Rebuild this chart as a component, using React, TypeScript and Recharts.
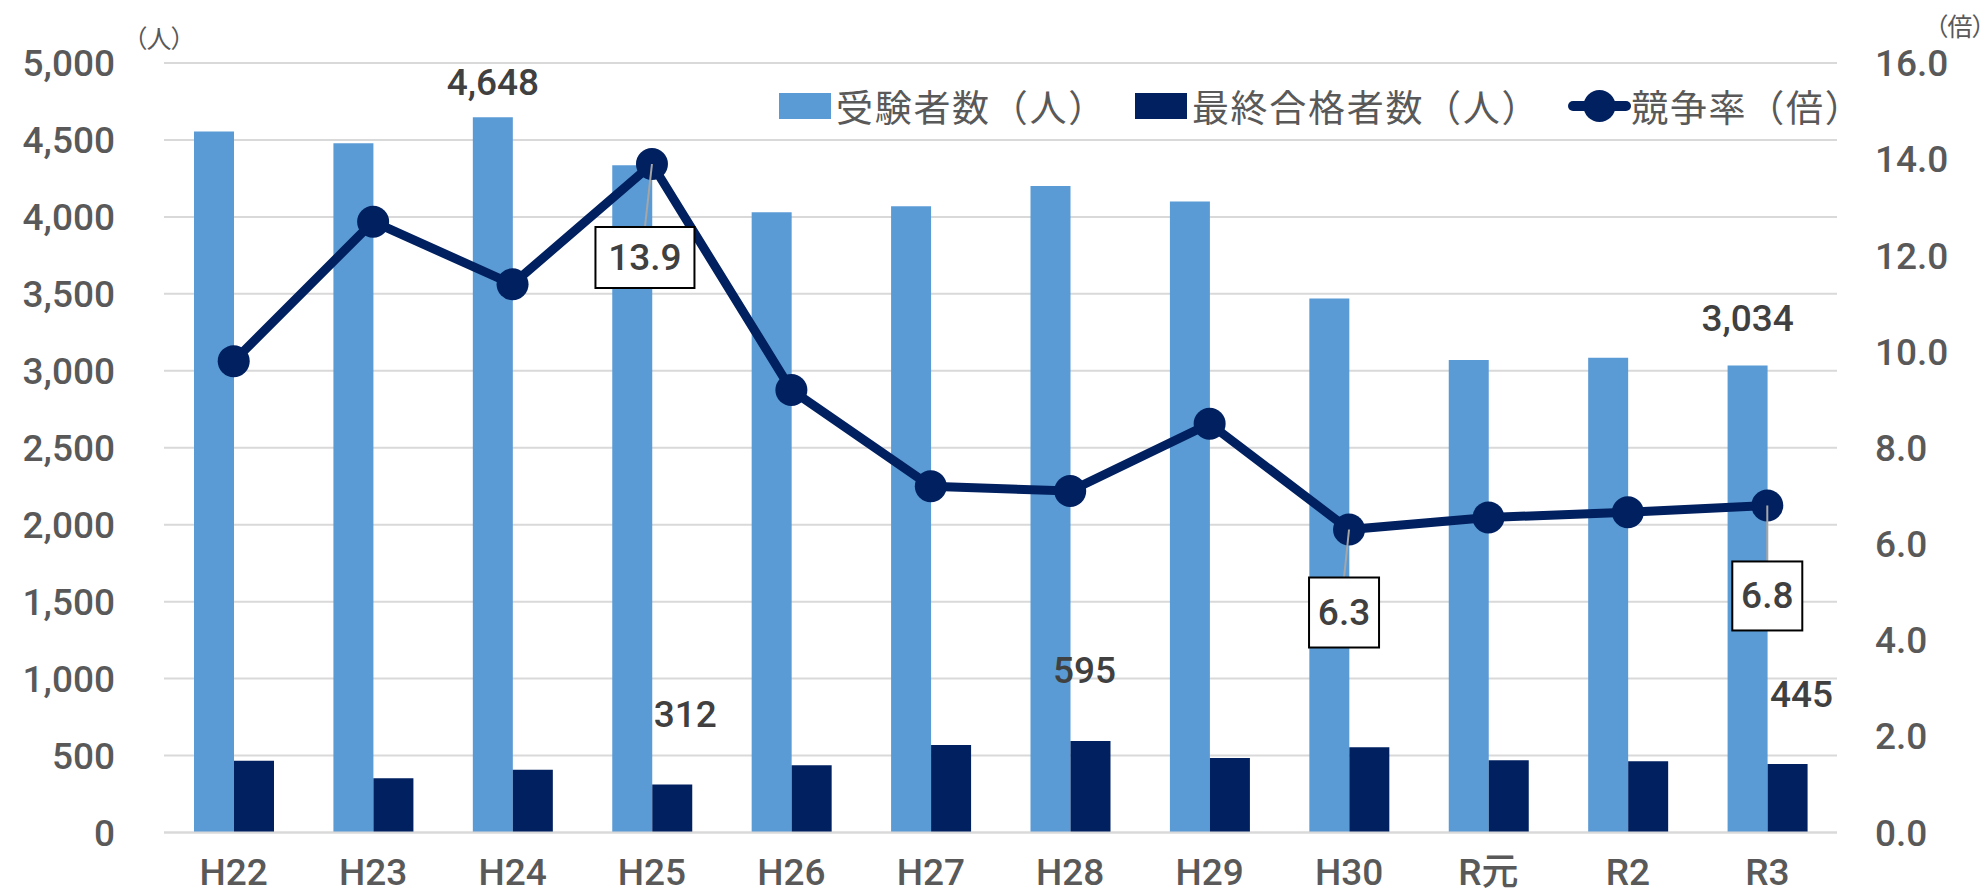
import React from "react";
import { ComposedChart, Bar, Line, XAxis, YAxis, CartesianGrid, LabelList } from "recharts";

const years = ["H22", "H23", "H24", "H25", "H26", "H27", "H28", "H29", "H30", "R元", "R2", "R3"];
const applicants = [4555, 4478, 4648, 4336, 4030, 4070, 4200, 4100, 3470, 3070, 3085, 3034];
const passers = [466, 352, 408, 312, 437, 569, 595, 484, 554, 469, 463, 445];
const ratio = [9.8, 12.7, 11.4, 13.9, 9.2, 7.2, 7.1, 8.5, 6.3, 6.55, 6.66, 6.8];
const leftTicks = [0, 500, 1000, 1500, 2000, 2500, 3000, 3500, 4000, 4500, 5000];
const rightTicks = [0, 2, 4, 6, 8, 10, 12, 14, 16];

const data = years.map((year, i) => ({
  year,
  applicants: applicants[i],
  passers: passers[i],
  ratio: ratio[i],
}));

// which points get a data label, and where Excel put it
const applicantLabelPos: Record<number, { dx: number; dy: number }> = {
  2: { dx: 0, dy: -35 },
  11: { dx: 0, dy: -47 },
};
const passerLabelPos: Record<number, { dx: number; dy: number }> = {
  3: { dx: 13, dy: -70 },
  6: { dx: -6, dy: -70 },
  11: { dx: 14, dy: -70 },
};
const ratioLabelPos: Record<number, { dx: number; dy: number; w: number; h: number }> = {
  3: { dx: -7, dy: 63, w: 99, h: 61 },
  8: { dx: -5, dy: 48, w: 70, h: 70 },
  11: { dx: 0, dy: 56, w: 70, h: 69 },
};

const LIGHT = "#5B9BD5";
const NAVY = "#002060";
const AXIS_TEXT = "#595959";
const LABEL_TEXT = "#404040";
const NUM_FONT = "Roboto, 'Noto Sans CJK JP', sans-serif";
const CJK_FONT = "'Noto Sans CJK JP', sans-serif";

const tickStyle = { fill: AXIS_TEXT, fontSize: 37, fontFamily: NUM_FONT, fontWeight: 500 };

const barLabel = (pos: Record<number, { dx: number; dy: number }>, values: number[]) => (props: any) => {
  const i = props.index ?? values.indexOf(props.value);
  const p = pos[i];
  if (!p) return null;
  return (
    <text
      x={props.x + props.width / 2 + p.dx}
      y={props.y + p.dy}
      textAnchor="middle"
      dominantBaseline="central"
      fill={LABEL_TEXT}
      fontSize={37}
      fontFamily={NUM_FONT}
      fontWeight={500}
    >
      {Number(props.value).toLocaleString("en-US")}
    </text>
  );
};

const ratioLabel = (props: any) => {
  const i = props.index ?? ratio.indexOf(props.value);
  const p = ratioLabelPos[i];
  if (!p) return null;
  const cx = props.x + p.dx;
  const top = props.y + p.dy;
  return (
    <g>
      <line x1={props.x} y1={props.y} x2={cx} y2={top} stroke="#A6A6A6" strokeWidth={2} />
      <rect x={cx - p.w / 2} y={top} width={p.w} height={p.h} fill="#fff" stroke="#000" strokeWidth={2} />
      <text
        x={cx}
        y={top + p.h / 2}
        textAnchor="middle"
        dominantBaseline="central"
        fill={LABEL_TEXT}
        fontSize={37}
        fontFamily={NUM_FONT}
        fontWeight={500}
      >
        {Number(props.value).toFixed(1)}
      </text>
    </g>
  );
};

const legendText = {
  fontSize: 37,
  letterSpacing: 1.7,
  color: AXIS_TEXT,
  fontFamily: CJK_FONT,
  lineHeight: "40px",
  whiteSpace: "nowrap" as const,
};

function ChartLegend() {
  return (
    <div style={{ position: "absolute", left: 779, top: 86, height: 40, display: "flex", alignItems: "center" }}>
      <div style={{ width: 52, height: 26, background: LIGHT }} />
      <span style={{ ...legendText, marginLeft: 5 }}>受験者数（人）</span>
      <div style={{ width: 52, height: 26, background: NAVY, marginLeft: 28 }} />
      <span style={{ ...legendText, marginLeft: 5 }}>最終合格者数（人）</span>
      <svg width={63} height={40} style={{ marginLeft: 28 }}>
        <line x1={5} y1={20} x2={58} y2={20} stroke={NAVY} strokeWidth={10} strokeLinecap="round" />
        <circle cx={31.5} cy={20} r={16} fill={NAVY} />
      </svg>
      <span style={legendText}>競争率（倍）</span>
    </div>
  );
}

const unitStyle = {
  position: "absolute" as const,
  fontSize: 25,
  lineHeight: "26px",
  color: AXIS_TEXT,
  fontFamily: CJK_FONT,
  fontFeatureSettings: '"palt"',
  whiteSpace: "nowrap" as const,
};

export default function App() {
  return (
    <div style={{ position: "relative", width: 1987, height: 895, background: "#fff" }}>
      <style>{`body{margin:0;}`}</style>
      <ComposedChart
        width={1987}
        height={895}
        data={data}
        margin={{ top: 63, right: 0, bottom: 0, left: 0 }}
        barCategoryGap={30}
        barGap={0}
      >
        <CartesianGrid yAxisId="left" vertical={false} stroke="#D9D9D9" strokeWidth={2} />
        <XAxis
          dataKey="year"
          height={62.5}
          tickSize={0}
          tickMargin={26}
          tickLine={false}
          axisLine={{ stroke: "#D9D9D9", strokeWidth: 2 }}
          tick={tickStyle}
          interval={0}
        />
        <YAxis
          yAxisId="left"
          orientation="left"
          width={164}
          domain={[0, 5000]}
          ticks={leftTicks}
          interval={0}
          tickSize={0}
          tickMargin={49}
          tickLine={false}
          axisLine={false}
          tick={tickStyle}
          tickFormatter={(v) => Number(v).toLocaleString("en-US")}
        />
        <YAxis
          yAxisId="right"
          orientation="right"
          width={150}
          domain={[0, 16]}
          ticks={rightTicks}
          interval={0}
          tickSize={0}
          tickMargin={38}
          tickLine={false}
          axisLine={false}
          tick={{ ...tickStyle, textAnchor: "start" }}
          tickFormatter={(v) => Number(v).toFixed(1)}
        />
        <Bar yAxisId="left" dataKey="applicants" name="受験者数（人）" fill={LIGHT} isAnimationActive={false}>
          <LabelList dataKey="applicants" content={barLabel(applicantLabelPos, applicants)} />
        </Bar>
        <Bar yAxisId="left" dataKey="passers" name="最終合格者数（人）" fill={NAVY} isAnimationActive={false}>
          <LabelList dataKey="passers" content={barLabel(passerLabelPos, passers)} />
        </Bar>
        <Line
          yAxisId="right"
          dataKey="ratio"
          name="競争率（倍）"
          type="linear"
          stroke={NAVY}
          strokeWidth={9}
          dot={{ r: 16, fill: NAVY, stroke: NAVY, strokeWidth: 0 }}
          activeDot={false}
          isAnimationActive={false}
        >
          <LabelList dataKey="ratio" content={ratioLabel} />
        </Line>
      </ComposedChart>
      <ChartLegend />
      <div style={{ ...unitStyle, left: 134, top: 24 }}>（人）</div>
      <div style={{ ...unitStyle, left: 1935, top: 12 }}>（倍）</div>
    </div>
  );
}
